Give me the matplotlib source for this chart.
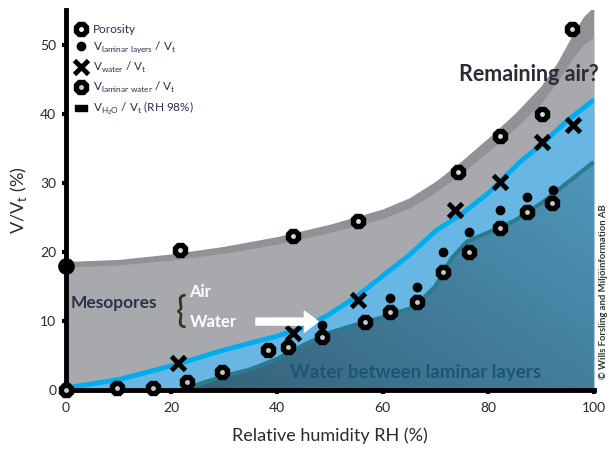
import numpy as np
import matplotlib
matplotlib.use("Agg")
import matplotlib.pyplot as plt
from matplotlib.lines import Line2D
from matplotlib.patches import PathPatch
from matplotlib.path import Path

plt.rcParams['font.family'] = ['Lato', 'DejaVu Sans']
plt.rcParams['mathtext.fontset'] = 'custom'
plt.rcParams['mathtext.rm'] = 'Lato'

# measured points (RH %, V/Vt %)
por_rh = [21.6, 43, 55.3, 74.3, 82.2, 90.2, 95.8]
por_v = [20.3, 22.3, 24.5, 31.6, 36.7, 39.9, 52.2]
por0_rh = [0]
por0_v = [18]

water_rh = [21.2, 43, 55.3, 73.7, 82.2, 90.2, 96]
water_v = [3.9, 8.3, 13.0, 26.1, 30.1, 35.9, 38.4]

lamw_rh = [0, 9.7, 16.5, 22.9, 29.5, 38.3, 42, 48.5, 56.6, 61.4, 66.5, 71.4, 76.3, 82.2, 87.3, 92]
lamw_v = [0, 0.3, 0.3, 1.2, 2.6, 5.8, 6.2, 7.7, 9.9, 11.3, 12.8, 17.1, 19.9, 23.5, 25.7, 27.1]

laml_rh = [48.5, 61.4, 66.5, 71.4, 76.3, 82.2, 87.3, 92.2]
laml_v = [9.4, 13.3, 14.9, 19.9, 22.9, 26.1, 28.0, 29.0]

# shaded envelopes
env_rh = [0, 10, 20, 30, 40, 50, 60, 65, 70, 75, 80, 85, 90, 93, 96, 98, 100]
env_dark = [18.6, 18.9, 19.7, 20.8, 22.2, 24.0, 26.2, 27.8, 30.2, 33.2, 36.5, 40.0, 44.0, 47.3, 51.5, 54.0, 55.5]
env_light = [17.8, 18.1, 18.8, 19.8, 21.1, 22.8, 24.8, 26.3, 28.6, 31.4, 34.5, 37.8, 41.5, 44.5, 48.0, 50.0, 51.0]

cyan_rh = [0, 10, 20, 30, 40, 46, 50, 55, 60, 65, 70, 75, 80, 86, 90, 95, 100]
cyan_v = [0.3, 1.5, 3.5, 5.8, 7.8, 9.3, 11.0, 13.5, 16.5, 19.5, 23.0, 25.5, 28.5, 33.0, 35.5, 39.0, 42.0]

teal_rh = [22, 25, 30, 35, 40, 45, 50, 56, 60, 66, 70, 73, 76, 80, 85, 90, 95, 100]
teal_v = [0, 0.8, 2.0, 3.0, 4.5, 6.5, 8.3, 9.7, 10.5, 12.0, 15.0, 19.0, 21.5, 22.8, 24.5, 27.0, 30.0, 33.0]

fig = plt.figure(figsize=(6.16, 4.54), dpi=100)
ax = fig.add_axes([0.107, 0.141, 0.857, 0.837])

ax.fill_between(env_rh, 0, env_dark, color='#909295', lw=0, zorder=1)
ax.fill_between(env_rh, 0, env_light, color='#a7a9ac', lw=0, zorder=1.1)
ax.fill_between(cyan_rh, 0, cyan_v, color='#68b6e4', lw=0, zorder=1.2)

# dark gradient region below laminar-water curve
poly = ax.fill_between(teal_rh, 0, teal_v, color='none', lw=0, zorder=1.3)
patch = PathPatch(poly.get_paths()[0], transform=ax.transData, facecolor='none', edgecolor='none')
ax.add_patch(patch)
gx, gy = np.meshgrid(np.linspace(0, 1, 200), np.linspace(0, 1, 100))
grad = 0.6 * gx + 0.4 * gy
cmap = matplotlib.colors.LinearSegmentedColormap.from_list('t', ['#31586f', '#4f98bb'])
im = ax.imshow(grad, extent=[0, 100, 0, 34], origin='lower', aspect='auto', cmap=cmap, zorder=1.3)
im.set_clip_path(patch)

ax.plot(cyan_rh, cyan_v, color='#00aeef', lw=3.5, zorder=2, solid_capstyle='butt')
ax.plot(teal_rh, teal_v, color='#2a7b8e', lw=3, zorder=2, solid_capstyle='butt')

# markers
ring = dict(marker='8', ms=11, mfc='black', mec='black', ls='none', zorder=5, clip_on=False)
ax.plot(por_rh, por_v, **ring)
ax.plot(por_rh, por_v, marker='o', ms=3.5, mfc='#d8d8d8', mec='none', ls='none', zorder=6)
ax.plot(por0_rh, por0_v, marker='o', ms=11, color='black', ls='none', zorder=5, clip_on=False)
ax.plot(lamw_rh, lamw_v, **ring)
ax.plot(lamw_rh, lamw_v, marker='o', ms=3.5, mfc='#c8c8c8', mec='none', ls='none', zorder=6, clip_on=False)
ax.plot(laml_rh, laml_v, marker='o', ms=6, color='black', ls='none', zorder=5)
ax.plot(water_rh, water_v, marker='x', ms=10, mew=3.5, color='black', ls='none', zorder=5)

# annotations
ax.text(0.8, 12.6, 'Mesopores', fontsize=12.5, fontweight='bold', color='#2b3447', va='center', zorder=7)
ax.text(20.8, 11.3, '{', fontsize=26, color='#3a3020', va='center', ha='left', zorder=7)
ax.text(23.4, 14.2, 'Air', fontsize=12, fontweight='bold', color='white', va='center', zorder=7)
ax.text(23.4, 9.9, 'Water', fontsize=12, fontweight='bold', color='white', va='center', zorder=7)
ax.annotate('', xy=(47.8, 9.9), xytext=(36, 9.9),
            arrowprops=dict(arrowstyle='simple,tail_width=0.5,head_width=1.5,head_length=1.0',
                            color='white', mutation_scale=10, shrinkA=0, shrinkB=0), zorder=7)
ax.text(66.3, 2.6, 'Water between laminar layers', fontsize=13.5, fontweight='bold',
        color='#1c5675', ha='center', va='center', zorder=7)
ax.text(101, 45.7, 'Remaining air?', fontsize=15.5, fontweight='bold', color='#2c2c38',
        ha='right', va='center', zorder=7)
ax.text(101.8, 14.2, '© Wills Forsling and Miljöinformation AB', fontsize=6.8, fontweight='bold',
        color='#333333', rotation=90, ha='center', va='center', clip_on=False)

# legend
def ringh(c):
    return (Line2D([], [], marker='8', ms=11, color='black', ls='none'),
            Line2D([], [], marker='o', ms=3.5, mfc=c, mec='none', ls='none'))
rect = Path([(-1, -0.5), (1, -0.5), (1, 0.5), (-1, 0.5), (-1, -0.5)])
handles = [ringh('white'),
           Line2D([], [], marker='o', ms=6, color='black', ls='none'),
           Line2D([], [], marker='x', ms=10, mew=3.5, color='black', ls='none'),
           ringh('#c8c8c8'),
           Line2D([], [], marker=rect, ms=9, color='black', ls='none')]
labels = ['Porosity',
          r'V$_{\mathregular{laminar\ layers}}$ / V$_{\mathregular{t}}$',
          r'V$_{\mathregular{water}}$ / V$_{\mathregular{t}}$',
          r'V$_{\mathregular{laminar\ water}}$ / V$_{\mathregular{t}}$',
          r'V$_{\mathregular{H_2O}}$ / V$_{\mathregular{t}}$ (RH 98%)']
ax.legend(handles, labels, loc='upper left', bbox_to_anchor=(0.0, 0.985), frameon=False,
          fontsize=8.5, handlelength=1.2, handletextpad=0.4, labelspacing=0.4,
          labelcolor='#26304d', borderaxespad=0.3)

ax.set_xlim(0, 100)
ax.set_ylim(0, 55)
ax.set_xticks([0, 20, 40, 60, 80, 100])
ax.set_yticks([0, 10, 20, 30, 40, 50])
for s in ['top', 'right']:
    ax.spines[s].set_visible(False)
for s in ['left', 'bottom']:
    ax.spines[s].set_linewidth(3.5)
    ax.spines[s].set_zorder(4)
ax.tick_params(direction='out', length=3, width=3, labelsize=10, labelcolor='#2a2a2a', pad=4)
ax.tick_params(axis='x', pad=6)
ax.set_xlabel('Relative humidity RH (%)', fontsize=13, color='#2a2a35', labelpad=9)
ax.set_ylabel('V/V$_{\\mathregular{t}}$ (%)', fontsize=13, color='#2a2a35', labelpad=8)

fig.savefig('out.png', dpi=100)
